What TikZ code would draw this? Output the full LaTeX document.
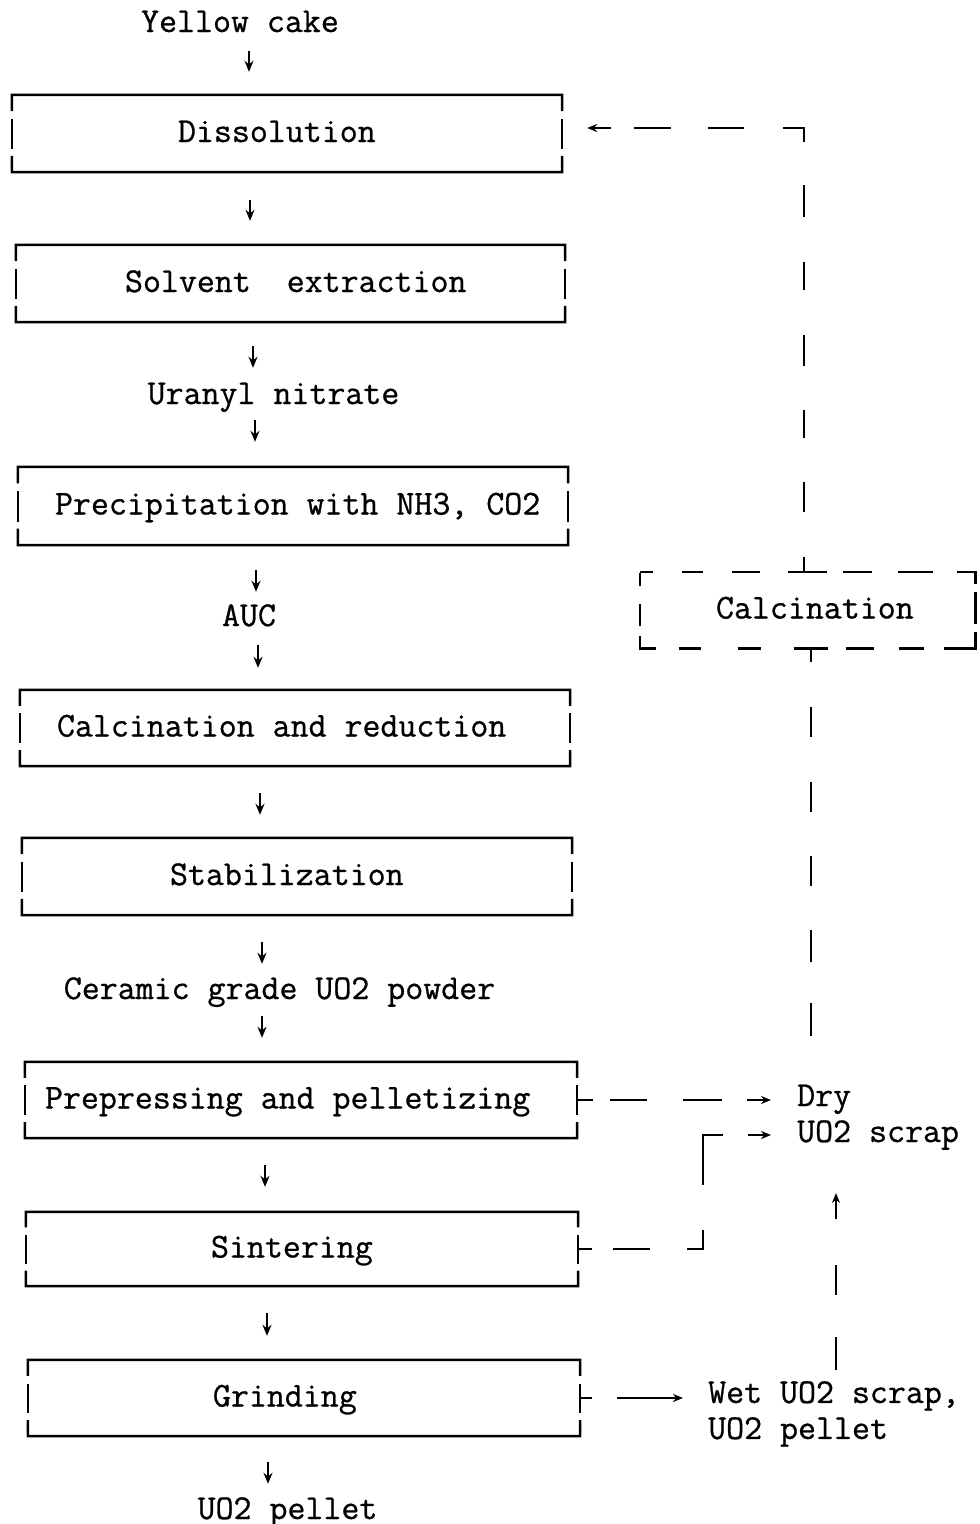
\documentclass[tikz,border=0pt]{standalone}
\usepackage{fontspec}
\setmonofont{Latin Modern Mono}[FakeBold=0.8]
\usetikzlibrary{arrows.meta,calc}
\begin{document}
\begin{tikzpicture}[x=1pt,y=-1pt,
  every node/.style={font=\ttfamily\fontsize{34.9pt}{36pt}\selectfont},
  lbl/.style={inner sep=0pt, text height=24pt, text depth=7pt},
  procbox/.style={inner sep=0pt, minimum height=#1, text height=24pt, text depth=7pt},
  side/.style={inner sep=0pt, align=left, anchor=north west},
  boxline/.style={line width=2.5pt, line join=miter},
  darr/.style={line width=2.2pt, -{Stealth[length=11pt,width=9pt]}},
  dl/.style={line width=2.6pt, line join=miter},
  tip/.style={-{Stealth[length=10pt,width=8pt]}}
]
\newcommand\bbox[1]{%
  \draw[boxline] ($(#1.north west)!.21!(#1.south west)$) -- (#1.north west) -- (#1.north east) -- ($(#1.north east)!.21!(#1.south east)$);
  \draw[boxline] ($(#1.north west)!.79!(#1.south west)$) -- (#1.south west) -- (#1.south east) -- ($(#1.north east)!.79!(#1.south east)$);
  \draw[boxline] ($(#1.north west)!.31!(#1.south west)$) -- ($(#1.north west)!.70!(#1.south west)$);
  \draw[boxline] ($(#1.north east)!.31!(#1.south east)$) -- ($(#1.north east)!.70!(#1.south east)$);
}
\newcommand\dn[5]{\draw[darr,shorten <=#4pt,shorten >=#5pt] (#1.south -| #3,0) -- (#2.north -| #3,0);}
\newcommand\bt[3]{\makebox[#1][l]{\hspace*{#2}#3}}
\fill[white] (0,0) rectangle (980,1524);
\useasboundingbox (0,0) rectangle (980,1524);

% main column
\node[lbl] (yel) at (240,23.5) {Yellow cake};
\node[procbox=77pt] (diss) at (287,133.5) {\bt{550pt}{166pt}{Dissolution}};
\node[procbox=77pt] (solv) at (290.5,283.5) {\bt{549pt}{109pt}{Solvent\ \ extraction}};
\node[lbl] (uran) at (273.5,395.5) {Uranyl nitrate};
\node[procbox=78pt] (prec) at (293,506) {\bt{550pt}{37pt}{Precipitation with NH3, CO2}};
\node[lbl] (auc) at (249,617.5) {AUC};
\node[procbox=76pt] (calr) at (295,728) {\bt{550pt}{37pt}{Calcination and reduction}};
\node[procbox=77pt] (stab) at (297,876.5) {\bt{550pt}{148pt}{Stabilization}};
\node[lbl] (cer) at (279.5,990.5) {Ceramic grade UO2 powder};
\node[procbox=76pt] (prep) at (301,1100) {\bt{552pt}{20pt}{Prepressing and pelletizing}};
\node[procbox=74pt] (sint) at (302,1249) {\bt{552pt}{185pt}{Sintering}};
\node[procbox=76pt] (grind) at (304,1398) {\bt{552pt}{185pt}{Grinding}};
\node[lbl] (pel) at (287.5,1510.5) {UO2 pellet};

\bbox{diss}\bbox{solv}\bbox{prec}\bbox{calr}\bbox{stab}\bbox{prep}\bbox{sint}\bbox{grind}

% right side
\node[procbox=76pt] (calc) at (807.5,610) {\bt{335pt}{76pt}{Calcination}};
\draw[dl, dash pattern=on 13pt off 29pt on 21pt off 29pt on 28pt off 28pt on 39pt off 16pt on 29pt off 26pt on 35pt off 24pt on 31pt off 8pt on 32pt off 8pt on 47pt off 20pt on 25pt off 25pt on 28pt off 18pt on 34pt off 33pt on 23pt off 37pt on 22pt off 23pt on 28pt off 10pt on 22pt off 18pt on 13pt]
  (calc.north west) -- (calc.north east) -- (calc.south east) -- (calc.south west) -- cycle;

\node[side] (dry) at (797,1084.5) {Dry\\UO2 scrap};
\node[side] (wet) at (708,1381) {Wet UO2 scrap,\\UO2 pellet};

\coordinate (k1) at (804,128);
\coordinate (k2) at (811,1036);
\coordinate (k3) at (703,1135);
\coordinate (u1) at (836,1370);
\coordinate (u2) at (836,1193);

% vertical flow arrows
\dn{yel}{diss}{249}{11.5}{23}
\dn{diss}{solv}{250}{28}{24}
\dn{solv}{uran}{253}{24}{12}
\dn{uran}{prec}{255}{9}{25}
\dn{prec}{auc}{256}{25}{10}
\dn{auc}{calr}{258}{12}{22}
\dn{calr}{stab}{260}{27}{23}
\dn{stab}{cer}{262}{27}{11}
\dn{cer}{prep}{262}{10}{24}
\dn{prep}{sint}{265}{27}{25}
\dn{sint}{grind}{267}{27}{24}
\dn{grind}{pel}{268}{26}{11}

% scrap connectors
\draw[dl, tip, shorten >=26pt, dash pattern=on 16pt off 17pt on 37pt off 36pt on 39pt off 25pt on 25pt]
  (prep.east) -- (prep.east -| dry.west);
\draw[dl, tip, shorten >=26pt, dash pattern=on 14pt off 21pt on 37pt off 37pt on 35pt off 45pt on 70pt off 25pt on 24pt]
  (sint.east) -| (k3) -- (k3 -| dry.west);
\draw[dl, tip, shorten >=25pt, dash pattern=on 12pt off 25pt on 66pt]
  (grind.east) -- (grind.east -| wet.west);
\draw[dl, tip, dash pattern=on 33pt off 42pt on 30pt off 46pt on 26pt]
  (u1) -- (u2);
\draw[dl, dash pattern=on 33pt off 41pt on 32pt off 44pt on 30pt off 44pt on 30pt off 45pt on 30pt off 45pt on 14pt]
  (k2) -- (k2 |- calc.south);
\draw[dl, tip, shorten >=25pt, dash pattern=on 15pt off 45pt on 30pt off 44pt on 28pt off 44pt on 31pt off 45pt on 28pt off 45pt on 32pt off 43pt on 35pt off 39pt on 36pt off 37pt on 37pt off 23pt on 24pt]
  (calc.north -| k1) -- (k1) -- (k1 -| diss.east);
\end{tikzpicture}
\end{document}
